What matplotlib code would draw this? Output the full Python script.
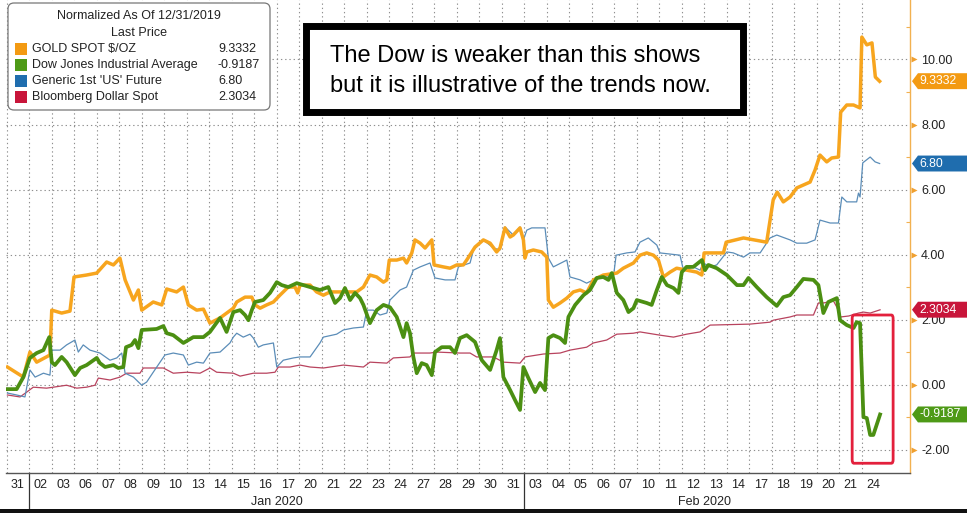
import matplotlib
matplotlib.use("Agg")
import matplotlib.pyplot as plt
import matplotlib.transforms as mtransforms
from matplotlib.patches import FancyBboxPatch, Rectangle, Polygon

W, H = 967, 513
plt.rcParams["font.family"] = ["Liberation Sans", "DejaVu Sans"]

# trading days on the x axis (index 0 = 31 Dec 2019)
day_labels = ["31", "02", "03", "06", "07", "08", "09", "10", "13", "14", "15", "16", "17",
              "20", "21", "22", "23", "24", "27", "28", "29", "30", "31",
              "03", "04", "05", "06", "07", "10", "11", "12", "13", "14", "17", "18", "19",
              "20", "21", "24"]
month_names = ["Jan 2020", "Feb 2020"]
month_first = [1, 23]
month_last = [22, 38]

# series: x in trading-day units, y = % change since 12/31/2019
gold_x = [-0.47, 0.24, 0.53, 0.83, 1.42, 1.50, 1.94, 2.31, 2.49, 3.05,
          3.50, 3.94, 4.24, 4.53, 4.76, 5.13, 5.35, 5.50, 6.01, 6.39,
          6.61, 7.05, 7.35, 7.57, 7.94, 8.24, 8.53, 8.98, 9.57, 9.72,
          10.09, 10.39, 10.53, 10.76, 11.05, 11.35, 11.64, 12.01, 12.31, 12.43,
          12.53, 12.98, 13.27, 13.57, 13.87, 14.31, 15.05, 15.35, 15.64, 15.94,
          16.24, 16.39, 16.50, 16.83, 17.13, 17.27, 17.50, 17.64, 17.87, 18.09,
          18.39, 18.49, 18.90, 19.20, 19.50, 19.79, 19.94, 20.31, 20.68, 20.98,
          21.27, 21.42, 21.64, 21.87, 22.01, 22.31, 22.46, 22.53, 22.61, 22.90,
          23.27, 23.50, 23.57, 23.79, 24.09, 24.39, 24.68, 24.98, 25.27, 25.57,
          26.01, 26.61, 26.90, 27.35, 27.64, 27.94, 28.24, 28.46, 28.68, 28.98,
          29.27, 29.71, 30.16, 30.39, 30.49, 31.35, 31.47, 32.24, 33.27, 33.56,
          33.74, 34.01, 34.31, 34.61, 34.90, 35.20, 35.42, 35.64, 35.94, 36.16,
          36.46, 36.56, 36.83, 37.13, 37.42, 37.50, 37.72, 37.95, 38.10, 38.29]
gold_y = [0.54, 0.23, 1.00, 0.69, 0.91, 2.29, 2.20, 2.26, 3.31, 3.37,
          3.43, 3.77, 3.68, 3.89, 3.22, 2.60, 2.91, 2.29, 2.54, 2.45,
          2.94, 2.85, 3.00, 2.45, 2.29, 2.32, 1.89, 2.05, 2.35, 2.54,
          2.69, 2.69, 2.45, 2.35, 2.45, 2.54, 2.75, 3.00, 3.00, 2.82,
          3.06, 3.06, 2.85, 2.75, 2.85, 2.85, 2.85, 3.00, 3.37, 3.31,
          3.15, 3.22, 3.83, 3.83, 3.89, 3.74, 4.05, 4.45, 4.35, 4.20,
          4.45, 3.68, 3.62, 3.58, 3.68, 3.68, 3.83, 4.23, 4.45, 4.35,
          4.08, 4.20, 4.82, 4.54, 4.60, 4.82, 4.45, 3.89, 4.08, 4.14,
          4.08, 3.92, 2.60, 2.38, 2.51, 2.66, 2.85, 2.91, 2.82, 3.22,
          3.37, 3.43, 3.58, 3.74, 3.98, 4.05, 3.98, 3.83, 3.31, 3.46,
          3.58, 3.52, 3.46, 3.37, 4.05, 4.05, 4.38, 4.51, 4.38, 5.68,
          5.92, 5.62, 5.77, 6.05, 6.14, 6.23, 6.60, 7.06, 6.85, 6.97,
          7.00, 8.38, 8.60, 8.60, 8.51, 10.69, 10.45, 10.51, 9.46, 9.33]

dow_x = [-0.47, -0.06, 0.24, 0.53, 0.83, 1.13, 1.39, 1.50, 1.64, 1.94,
         2.16, 2.53, 2.76, 3.05, 3.50, 3.64, 3.87, 4.24, 4.46, 4.68,
         4.80, 5.05, 5.20, 5.35, 5.50, 6.16, 6.46, 6.61, 6.90, 7.35,
         7.79, 8.24, 8.53, 8.98, 9.27, 9.57, 9.87, 10.09, 10.24, 10.39,
         10.53, 10.90, 11.20, 11.50, 11.72, 12.01, 12.39, 12.98, 13.42, 13.79,
         14.09, 14.31, 14.53, 14.76, 14.98, 15.20, 15.35, 15.64, 15.94, 16.24,
         16.53, 16.83, 17.13, 17.27, 17.42, 17.57, 17.72, 17.94, 18.16, 18.39,
         18.53, 18.83, 19.20, 19.42, 19.64, 19.94, 20.31, 20.61, 20.98, 21.27,
         21.42, 21.57, 21.87, 22.09, 22.31, 22.46, 22.68, 22.98, 23.20, 23.42,
         23.57, 23.79, 24.09, 24.31, 24.46, 24.76, 25.13, 25.42, 25.72, 26.01,
         26.24, 26.39, 26.61, 26.90, 27.13, 27.35, 27.50, 27.94, 28.16, 28.39,
         28.61, 28.84, 29.13, 29.35, 29.50, 29.71, 30.01, 30.39, 30.53, 30.68,
         31.05, 31.50, 31.95, 32.24, 32.46, 32.83, 33.27, 33.72, 34.01, 34.31,
         34.61, 34.90, 35.35, 35.57, 35.79, 36.01, 36.39, 36.53, 36.83, 37.13,
         37.27, 37.42, 37.57, 37.72, 37.87, 38.01, 38.31]
dow_y = [-0.14, -0.14, 0.23, 0.82, 0.97, 1.06, 1.46, 0.69, 0.60, 0.85,
         0.69, 0.29, 0.51, 0.60, 0.82, 0.66, 0.54, 0.60, 0.51, 0.54,
         1.15, 1.22, 1.37, 1.12, 1.68, 1.71, 1.80, 1.58, 1.52, 1.28,
         1.46, 1.46, 1.62, 2.05, 1.62, 2.23, 2.29, 2.14, 1.98, 2.29,
         2.54, 2.60, 2.82, 3.15, 3.06, 3.00, 3.12, 3.00, 2.91, 3.00,
         2.51, 2.66, 2.97, 2.60, 2.82, 2.66, 2.45, 1.89, 2.29, 2.45,
         2.38, 2.08, 1.46, 1.89, 1.58, 0.85, 0.35, 0.66, 0.60, 0.29,
         1.00, 1.15, 1.15, 0.97, 1.43, 1.52, 1.31, 0.75, 0.45, 1.06,
         1.43, 0.23, -0.17, -0.48, -0.78, 0.54, 0.20, -0.23, 0.05, -0.17,
         1.43, 1.52, 1.43, 1.28, 2.08, 2.45, 2.75, 2.91, 3.28, 3.31,
         3.22, 3.43, 2.82, 2.60, 2.23, 2.35, 2.60, 2.51, 2.45, 2.91,
         3.31, 3.06, 2.97, 2.82, 3.46, 3.62, 3.62, 3.83, 3.52, 3.68,
         3.58, 3.37, 3.06, 3.06, 3.28, 3.00, 2.69, 2.42, 2.69, 2.75,
         3.00, 3.25, 3.22, 3.06, 2.20, 2.54, 2.66, 1.98, 1.83, 1.74,
         1.92, 1.89, -1.00, -1.03, -1.55, -1.55, -0.92]

us_x = [-0.47, -0.06, 0.31, 0.53, 0.76, 1.13, 1.42, 1.50, 1.87, 2.16,
        2.53, 2.68, 2.90, 3.20, 3.64, 4.09, 4.39, 4.61, 4.76, 5.13,
        5.50, 5.72, 6.01, 6.53, 6.90, 7.35, 7.57, 7.94, 8.24, 8.53,
        8.98, 9.42, 9.57, 9.72, 10.01, 10.31, 10.46, 10.68, 10.90, 11.35,
        11.50, 11.79, 12.24, 12.53, 12.98, 13.42, 13.57, 14.16, 14.46, 14.90,
        15.35, 15.50, 15.79, 16.09, 16.39, 16.53, 16.98, 17.27, 17.57, 17.87,
        18.31, 18.53, 18.98, 19.42, 19.57, 20.09, 20.24, 20.68, 21.13, 21.42,
        21.64, 22.01, 22.31, 22.46, 22.61, 22.83, 23.42, 23.57, 23.79, 24.39,
        24.53, 24.98, 25.27, 25.57, 26.01, 26.46, 26.58, 27.05, 27.42, 27.64,
        28.01, 28.39, 28.53, 29.42, 29.57, 30.01, 30.31, 30.46, 30.76, 31.05,
        31.50, 31.79, 32.24, 32.53, 32.98, 33.42, 33.72, 34.31, 34.61, 35.05,
        35.42, 35.64, 36.09, 36.46, 36.61, 36.83, 37.27, 37.35, 37.42, 37.54,
        37.87, 38.09, 38.29]
us_y = [-0.26, -0.32, -0.38, 0.45, 0.23, 0.35, 0.29, 1.06, 1.06, 1.22,
        1.37, 1.00, 1.22, 1.06, 0.97, 0.75, 0.82, 0.97, 0.35, 0.23,
        -0.02, 0.08, 0.38, 0.91, 0.97, 0.91, 0.60, 0.69, 0.66, 0.97,
        1.00, 1.28, 1.46, 1.58, 1.46, 1.55, 1.43, 1.15, 1.22, 1.28,
        0.54, 0.75, 0.82, 0.85, 0.85, 1.28, 1.46, 1.55, 1.68, 1.74,
        1.77, 2.29, 2.29, 2.14, 2.20, 2.60, 2.91, 3.00, 3.52, 3.62,
        3.74, 3.28, 3.22, 3.22, 3.62, 3.74, 4.14, 4.45, 4.20, 4.14,
        4.85, 4.60, 4.85, 4.45, 4.75, 4.82, 4.82, 3.89, 3.62, 3.83,
        3.31, 3.22, 3.12, 3.22, 3.31, 3.31, 3.98, 4.05, 4.08, 4.38,
        4.51, 4.29, 4.05, 3.98, 3.52, 3.62, 3.52, 3.74, 3.62, 3.68,
        4.08, 4.05, 3.92, 4.05, 4.05, 4.51, 4.60, 4.45, 4.35, 4.35,
        4.45, 5.06, 4.97, 4.97, 5.77, 5.62, 5.62, 5.89, 5.77, 6.82,
        7.00, 6.85, 6.80]

usd_x = [-0.47, 0.09, 0.39, 0.68, 1.27, 1.57, 2.16, 2.61, 3.05, 3.42,
         3.57, 4.09, 4.53, 4.83, 5.42, 5.57, 6.46, 6.90, 7.50, 8.09,
         8.53, 8.83, 9.57, 9.87, 10.46, 11.05, 11.42, 11.57, 12.09, 12.53,
         12.98, 13.57, 14.46, 15.35, 15.64, 16.39, 16.68, 17.42, 17.57, 18.31,
         18.61, 19.64, 20.09, 20.38, 21.13, 21.57, 22.31, 22.53, 23.35, 24.09,
         24.53, 25.27, 25.57, 26.16, 26.61, 27.35, 27.64, 28.53, 29.13, 29.71,
         30.31, 30.76, 32.53, 33.42, 33.56, 34.31, 34.61, 35.35, 35.57, 35.79,
         36.24, 36.39, 36.56, 36.92, 37.35, 37.57, 37.87, 38.31]
usd_y = [-0.32, -0.38, -0.23, -0.08, -0.11, -0.08, -0.02, -0.11, -0.08, -0.02,
         0.20, 0.14, 0.23, 0.35, 0.35, 0.51, 0.51, 0.35, 0.38, 0.35,
         0.51, 0.38, 0.35, 0.26, 0.35, 0.35, 0.38, 0.54, 0.54, 0.60,
         0.54, 0.51, 0.60, 0.54, 0.69, 0.66, 0.82, 0.85, 0.97, 0.97,
         1.00, 0.97, 0.97, 0.85, 0.85, 0.69, 0.66, 0.85, 0.94, 0.97,
         1.06, 1.15, 1.28, 1.37, 1.55, 1.58, 1.62, 1.52, 1.46, 1.55,
         1.62, 1.83, 1.86, 1.92, 1.98, 2.08, 2.14, 2.14, 2.51, 2.51,
         2.57, 2.38, 2.08, 2.11, 2.20, 2.23, 2.20, 2.30]

series_names = ["GOLD SPOT $/OZ", "Dow Jones Industrial Average",
                "Generic 1st 'US' Future", "Bloomberg Dollar Spot"]
last_prices = [9.3332, -0.9187, 6.80, 2.3034]
last_labels = ["9.3332", "-0.9187", "6.80", "2.3034"]

line_colors = ["#F7A51E", "#4B8F12", "#5B8DB8", "#B8435E"]
badge_colors = ["#F39A12", "#4E9A17", "#1F6DAE", "#C8153A"]
line_widths = [2.5, 2.7, 0.9, 0.9]
GRID = "#8f8f8f"
ORANGE = "#F2B150"

fig = plt.figure(figsize=(W / 100, H / 100), dpi=100)
ax = fig.add_axes([6 / W, 40 / H, 904 / W, 473 / H])
ax.set_xlim(-0.533, 39.64)
ax.set_ylim(-2.72, 11.83)

# thin lines first, thick ones on top
xs = [gold_x, dow_x, us_x, usd_x]
ys = [gold_y, dow_y, us_y, usd_y]
for k in [3, 2, 0, 1]:
    assert len(xs[k]) == len(ys[k])
    ax.plot(xs[k], ys[k], color=line_colors[k], lw=line_widths[k],
            solid_joinstyle="round", zorder=3)

# grid: day boundaries and every 2 units
ax.set_xticks([i - 0.5 for i in range(len(day_labels))])
ax.set_xticks(range(len(day_labels)), minor=True)
ax.set_xticklabels([])
ax.set_xticklabels(day_labels, minor=True)
ax.tick_params(axis="x", which="major", length=0)
ax.tick_params(axis="x", which="minor", length=0, pad=4, labelsize=9, labelcolor="#222222")
ax.grid(axis="x", which="major", color=GRID, lw=0.8, linestyle=(0, (1.2, 2.6)))

yt = list(range(-2, 11, 2))
ax.yaxis.tick_right()
ax.set_yticks(yt)
ax.set_yticklabels([f"{v:.2f}" for v in yt])
ax.set_yticks(range(-1, 12, 2), minor=True)
ax.tick_params(axis="y", which="major", length=0, pad=8, labelsize=9, labelcolor="#222222")
ax.tick_params(axis="y", which="minor", direction="in", length=3, color=ORANGE, width=0.8)
ax.grid(axis="y", which="major", color=GRID, lw=0.8, linestyle=(0, (1.2, 2.6)))

ytr = ax.get_yaxis_transform()
ax.plot([1.0045] * len(yt), yt, ">", color="#F0A030", ms=4.5, mec="none",
        transform=ytr, clip_on=False, zorder=4)

for s in ["left", "top"]:
    ax.spines[s].set_visible(False)
ax.spines["right"].set_color(ORANGE)
ax.spines["right"].set_linewidth(1.0)
ax.spines["bottom"].set_color("#555555")
ax.spines["bottom"].set_linewidth(1.0)

# month labels and separators under the axis
xtr = ax.get_xaxis_transform()
for name, a, b in zip(month_names, month_first, month_last):
    ax.text((a + b) / 2, -0.061, name, transform=xtr, ha="center", va="center",
            fontsize=9, color="#222222")
    ax.plot([a - 0.5, a - 0.5], [0, -0.073], color="#333333", lw=0.9,
            transform=xtr, clip_on=False)

# last value badges on the right
h = 0.245
for val, lab, col in zip(last_prices, last_labels, badge_colors):
    ax.add_patch(Polygon([(1.0022, val), (1.0088, val + h), (1.08, val + h),
                          (1.08, val - h), (1.0088, val - h)], closed=True,
                         transform=ytr, facecolor=col, edgecolor="none",
                         clip_on=False, zorder=6))
    ax.text(1.0105, val, lab, transform=ytr, ha="left", va="center", color="white",
            fontsize=8.8, clip_on=False, zorder=7)

# highlight box on the Dow drop
ax.add_patch(FancyBboxPatch((37.07, -2.42), 1.82, 4.56,
                            boxstyle="round,pad=0,rounding_size=0.08",
                            mutation_aspect=1.4, fill=False, edgecolor="#E3203C",
                            lw=2.0, zorder=5))

# legend box
ident = mtransforms.IdentityTransform()
fig.add_artist(FancyBboxPatch((8, H - 110), 262, 107, boxstyle="round,pad=0,rounding_size=6",
                              transform=ident, facecolor="white", edgecolor="#777777", lw=0.9))
fig.text(139 / W, 1 - 16 / H, "Normalized As Of 12/31/2019", ha="center", va="center",
         fontsize=9, color="#222222")
fig.text(139 / W, 1 - 32.5 / H, "Last Price", ha="center", va="center",
         fontsize=9, color="#222222")
for k, (name, lab) in enumerate(zip(series_names, last_labels)):
    yy = 49 + 16 * k
    fig.add_artist(Rectangle((15, H - yy - 6), 12, 12, transform=ident,
                             facecolor=badge_colors[k], edgecolor="none"))
    fig.text(32 / W, 1 - yy / H, name, ha="left", va="center", fontsize=9, color="#222222")
    fig.text(218 / W, 1 - yy / H, lab, ha="left", va="center", fontsize=9, color="#222222")

# comment box
fig.add_artist(Rectangle((305.5, H - 112), 437, 86, transform=ident, facecolor="white",
                         edgecolor="black", lw=5))
fig.text(330 / W, 1 - 61.5 / H, "The Dow is weaker than this shows", ha="left",
         va="baseline", fontsize=17, color="black")
fig.text(330 / W, 1 - 91.5 / H, "but it is illustrative of the trends now.", ha="left",
         va="baseline", fontsize=17, color="black")

# dark strip at the bottom of the screenshot
fig.add_artist(Rectangle((0, 0), 1, 4 / H, transform=fig.transFigure,
                         facecolor="#111111", edgecolor="none"))

fig.savefig("out.png", dpi=100)
